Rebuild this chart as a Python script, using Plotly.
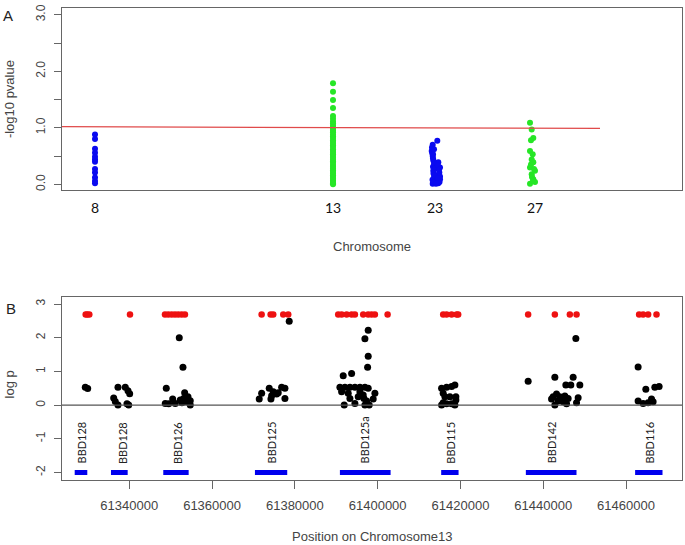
import plotly.graph_objects as go

W, H = 685, 545

# ---------------- Panel A data ----------------
chrom_labels = ["8", "13", "23", "27"]
chrom_centers = [33, 271, 373, 473]

chr8_x = [33] * 12
chr8_y = [0.88, 0.80, 0.63, 0.56, 0.49, 0.44, 0.40, 0.27, 0.21, 0.12, 0.06, 0.02]

chr13_y = [1.79, 1.64, 1.49, 1.35, 1.21, 1.16, 1.11, 1.08, 1.04, 1.01, 0.98, 0.95,
           0.92, 0.88, 0.85, 0.82, 0.78, 0.75, 0.72, 0.69, 0.66, 0.62, 0.59, 0.56,
           0.53, 0.50, 0.47, 0.44, 0.41, 0.38, 0.34, 0.31, 0.28, 0.25, 0.22, 0.19,
           0.16, 0.13, 0.10, 0.07, 0.04, 0.02, 0.00]
chr13_x = [271] * len(chr13_y)

chr23_x = [375.3, 370.7, 369.7, 370.7, 371.3, 376.3, 378, 377.3, 371.3, 372, 378, 370.7,
           376.3, 370, 370.3, 371, 372, 371, 373, 376, 377, 376.5, 378, 371.5, 372.5,
           370.5, 373, 375, 377.5, 371.5, 374, 376, 372, 371]
chr23_y = [0.77, 0.70, 0.59, 0.50, 0.42, 0.39, 0.30, 0.21, 0.24, 0.12, 0.09, 0.01,
           0.02, 0.65, 0.55, 0.46, 0.36, 0.31, 0.28, 0.33, 0.26, 0.17, 0.14, 0.19, 0.15,
           0.08, 0.05, 0.06, 0.04, 0.03, 0.01, 0.11, 0.62, 0.53]

chr27_x = [468, 469.7, 471.3, 469, 468, 470.7, 469.7, 471.3, 468, 473, 469.7, 471.3,
           468, 473, 469, 472, 470, 471]
chr27_y = [1.09, 0.97, 0.82, 0.78, 0.59, 0.53, 0.44, 0.39, 0.30, 0.24, 0.18, 0.09,
           0.01, 0.04, 0.35, 0.27, 0.13, 0.06]

thresh_x = [0, 538]
thresh_y = [1.02, 0.99]

ya_ticks = [0, 0.5, 1.0, 1.5, 2.0, 2.5, 3.0]
ya_text = ["0.0", "", "1.0", "", "2.0", "", "3.0"]

# ---------------- Panel B data ----------------
sig_pos = [61329471, 61329857, 61330340, 61340169, 61348622, 61349418, 61350240,
           61351037, 61351833, 61352655, 61353452, 61371975, 61374148, 61374776,
           61377191, 61378398, 61390473, 61391295, 61392502, 61393710, 61394507,
           61396511, 61397718, 61398540, 61399337, 61402404, 61415831, 61416652,
           61417860, 61419067, 61419453, 61436358, 61442807, 61446429, 61448047,
           61463165, 61464131, 61465338, 61467367]
sig_logp = [2.69] * len(sig_pos)

oth_pos = [61329374, 61329954,
           61337271, 61339034, 61339686, 61340097, 61336233, 61336619, 61337271,
           61339445, 61339855,
           61348935, 61352075, 61352969, 61353379, 61348694, 61349515, 61350481,
           61351109, 61352316, 61353138, 61354176, 61354731, 61354731, 61353935,
           61352727,
           61378640, 61373810, 61376805, 61377602, 61371975, 61374776, 61375597,
           61371395, 61374221, 61377602, 61374390, 61375983,
           61397718, 61396922, 61397718, 61397574, 61391681, 61393710, 61390884,
           61392092, 61393299, 61394507, 61395714, 61396922, 61397718, 61391295,
           61392888, 61395714, 61396511, 61399337, 61393299, 61396680, 61398926,
           61391922, 61394507, 61396922, 61397960, 61395303, 61397332,
           61415445, 61416652, 61418657, 61417860, 61415831, 61416242, 61417449,
           61418898, 61418898, 61415831, 61416652, 61417860, 61418657, 61415445,
           61447878, 61436358, 61442807, 61447226, 61445463, 61446671, 61448844,
           61442396, 61443217, 61444014, 61445222, 61446018, 61442010, 61444811,
           61445632, 61442807, 61448433, 61448047, 61443603,
           61462923, 61464783, 61466957, 61467995, 61462923, 61464131, 61465338,
           61466160, 61466546]
oth_logp = [0.53, 0.49,
            0.53, 0.53, 0.43, 0.34, 0.21, 0.11, 0.00, 0.04, 0.00,
            0.50, 2.00, 1.12, 0.37, 0.05, 0.04, 0.18, 0.05, 0.15, 0.20, 0.25, 0.13,
            0.00, 0.10, 0.07,
            2.49, 0.50, 0.53, 0.50, 0.35, 0.40, 0.33, 0.18, 0.18, 0.20, 0.28, 0.37,
            2.22, 1.97, 1.45, 1.12, 0.87, 0.94, 0.53, 0.53, 0.53, 0.53, 0.53, 0.53,
            0.50, 0.40, 0.35, 0.40, 0.30, 0.35, 0.20, 0.20, 0.18, 0.00, 0.05, 0.00,
            0.00, 0.25, 0.12,
            0.50, 0.53, 0.60, 0.55, 0.35, 0.25, 0.25, 0.25, 0.15, 0.07, 0.04, 0.04,
            0.00, 0.00,
            1.98, 0.71, 0.83, 0.83, 0.60, 0.60, 0.60, 0.25, 0.33, 0.25, 0.27, 0.20,
            0.18, 0.10, 0.04, 0.00, 0.22, 0.07, 0.12,
            1.13, 0.47, 0.53, 0.55, 0.12, 0.05, 0.07, 0.18, 0.10]

gene_name = ["BBD128", "BBD128", "BBD126", "BBD125", "BBD125a", "BBD115", "BBD142", "BBD116"]
gene_start = [61326814, 61335580, 61348211, 61370357, 61390884, 61415347, 61435803, 61462200]
gene_end = [61329857, 61339613, 61354345, 61378157, 61403128, 61419549, 61448040, 61468815]
gene_label_pos = [61328505, 61338551, 61351833, 61374390, 61396752, 61417691, 61442010, 61465749]
gene_track_y = -2.0
gene_label_y = -1.8

xb_ticks = [61340000, 61360000, 61380000, 61400000, 61420000, 61440000, 61460000]
yb_ticks = [-2, -1, 0, 1, 2, 3]

# ---------------- Figure ----------------
fig = go.Figure()

BLUE = "#0a0af0"
GREEN = "#26e626"
RED = "#ee1111"

mk = dict(size=6, line=dict(width=0))
fig.add_trace(go.Scatter(x=chr8_x, y=chr8_y, mode="markers", marker=dict(color=BLUE, **mk),
                         xaxis="x", yaxis="y"))
fig.add_trace(go.Scatter(x=chr13_x, y=chr13_y, mode="markers", marker=dict(color=GREEN, **mk),
                         xaxis="x", yaxis="y"))
fig.add_trace(go.Scatter(x=chr23_x, y=chr23_y, mode="markers", marker=dict(color=BLUE, **mk),
                         xaxis="x", yaxis="y"))
fig.add_trace(go.Scatter(x=chr27_x, y=chr27_y, mode="markers", marker=dict(color=GREEN, **mk),
                         xaxis="x", yaxis="y"))
fig.add_trace(go.Scatter(x=thresh_x, y=thresh_y, mode="lines",
                         line=dict(color="#e04a4a", width=1.3), xaxis="x", yaxis="y"))

# panel B
fig.add_shape(type="line", xref="x2 domain", yref="y2", x0=0, x1=1, y0=0, y1=0,
              line=dict(color="#555555", width=1.2))
gx, gy = [], []
for s, e in zip(gene_start, gene_end):
    gx += [s, e, None]
    gy += [gene_track_y, gene_track_y, None]
fig.add_trace(go.Scatter(x=gx, y=gy, mode="lines", line=dict(color="#0000ee", width=5),
                         xaxis="x2", yaxis="y2"))
fig.add_trace(go.Scatter(x=oth_pos, y=oth_logp, mode="markers",
                         marker=dict(color="black", size=7, line=dict(width=0)),
                         xaxis="x2", yaxis="y2"))
fig.add_trace(go.Scatter(x=sig_pos, y=sig_logp, mode="markers",
                         marker=dict(color=RED, size=6.5, line=dict(width=0)),
                         xaxis="x2", yaxis="y2"))

for name, pos in zip(gene_name, gene_label_pos):
    fig.add_annotation(x=pos, y=gene_label_y, xref="x2", yref="y2", text=name,
                       textangle=-90, showarrow=False, xanchor="center", yanchor="bottom",
                       font=dict(family="Lato, Open Sans, sans-serif", size=11, color="#222"))

ax_font = dict(family="Liberation Sans, Arial, sans-serif", size=12, color="#444")
frame = dict(showline=True, linecolor="#666", linewidth=1, mirror=True,
             showgrid=False, zeroline=False)

fig.update_layout(
    width=W, height=H, margin=dict(l=0, r=0, t=0, b=0),
    paper_bgcolor="white", plot_bgcolor="white", showlegend=False,
    xaxis=dict(domain=[62 / W, 682 / W], range=[0, 620], anchor="y",
               tickvals=chrom_centers, ticktext=chrom_labels, ticks="",
               tickfont=dict(family="Lato, Open Sans, sans-serif", size=14, color="#111"),
               ticklabelstandoff=5, **frame),
    yaxis=dict(domain=[1 - 188 / H, 1 - 4 / H], range=[-0.105, 3.12], anchor="x",
               tickvals=ya_ticks, ticktext=ya_text, ticks="outside", ticklen=7,
               tickcolor="#666", tickangle=-90, tickfont=ax_font, ticklabelstandoff=4,
               **frame),
    xaxis2=dict(domain=[62 / W, 682 / W], range=[61323747, 61473524], anchor="y2",
                tickvals=xb_ticks, ticktext=[str(v) for v in xb_ticks], ticks="outside",
                ticklen=8, tickcolor="#666",
                tickfont=dict(family="Liberation Sans, Arial, sans-serif", size=13, color="#444"),
                ticklabelstandoff=6, **frame),
    yaxis2=dict(domain=[1 - 480 / H, 1 - 296 / H], range=[-2.21, 3.2], anchor="x2",
                tickvals=yb_ticks, ticktext=[str(v) for v in yb_ticks], ticks="outside",
                ticklen=7, tickcolor="#666", tickangle=-90, tickfont=ax_font,
                ticklabelstandoff=4, **frame),
)

title_font = dict(family="Liberation Sans, Arial, sans-serif", size=13, color="#444")
paper_labels = [
    ("Chromosome", 372, 245, 0, title_font),
    ("Position on Chromosome13", 372, 537, 0, title_font),
    ("-log10 pvalue", 9, 96, -90, title_font),
    ("log p", 9, 384, -90, title_font),
    ("A", 8, 12, 0, dict(family="Liberation Sans, Arial", size=15, color="#222")),
    ("B", 10.5, 307, 0, dict(family="Liberation Sans, Arial", size=15, color="#222")),
]
for txt, px, py, ang, fnt in paper_labels:
    fig.add_annotation(x=px / W, y=1 - py / H, xref="paper", yref="paper", text=txt,
                       textangle=ang, showarrow=False, xanchor="center", yanchor="middle",
                       font=fnt)

fig.write_html("out.html", config={"displayModeBar": False},
               post_script="document.body.style.margin='0';document.body.style.overflow='hidden';")
